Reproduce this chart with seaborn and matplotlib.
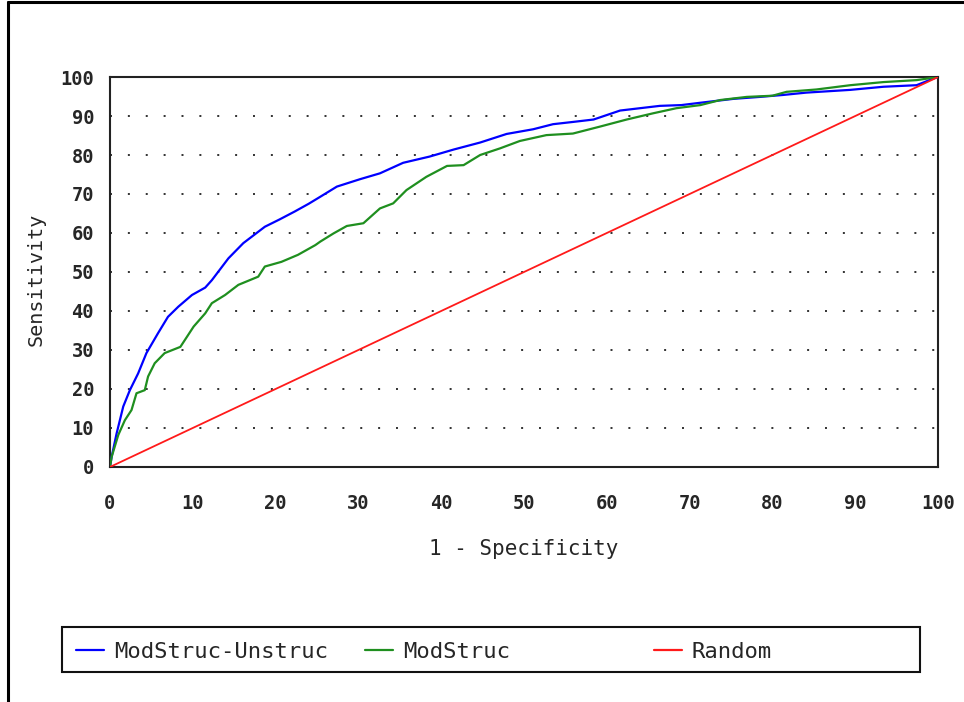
import numpy as np
import pandas as pd
import matplotlib
matplotlib.use("Agg")
import matplotlib.pyplot as plt
from matplotlib.lines import Line2D
from matplotlib.patches import Rectangle
import seaborn as sns

# ROC DATA (in percent)
series_names = ["ModStruc-Unstruc", "ModStruc", "Random"]
series_colors = ["#0000ff", "#1f8f1f", "#ff1a1a"]
series_widths = [1.6, 1.6, 1.3]

blue_fpr = [0, 0.2, 0.8, 1.6, 2.4, 3.4, 4.4, 5.8, 7.0, 8.25, 9.9, 11.5, 12.3,
            14.3, 16.1, 18.7, 20.5, 22.3, 24.0, 25.4, 27.4, 30.2, 32.6, 35.4,
            38.6, 41.5, 44.7, 47.9, 51.1, 53.5, 56.0, 58.4, 61.6, 64.0, 66.4,
            69.0, 71.3, 75.3, 78.5, 81.3, 84.1, 89.4, 93.4, 97.4, 99.8, 100]
blue_tpr = [0, 2.6, 8.6, 15.5, 19.7, 24.0, 29.2, 34.3, 38.5, 41.1, 44.1, 46.0, 47.9,
            53.5, 57.4, 61.6, 63.5, 65.5, 67.5, 69.3, 71.9, 73.8, 75.3, 78.0,
            79.6, 81.4, 83.2, 85.4, 86.6, 87.9, 88.5, 89.1, 91.4, 92.0, 92.6,
            92.8, 93.4, 94.4, 94.9, 95.4, 96.0, 96.7, 97.5, 97.9, 99.9, 100]

green_fpr = [0, 0.2, 1.0, 1.8, 2.6, 3.2, 4.2, 4.6, 5.4, 6.6, 8.5, 10.1, 11.5, 12.3,
             13.9, 15.5, 17.9, 18.7, 20.7, 22.7, 24.8, 25.4, 27.0, 28.6, 30.6,
             32.6, 34.2, 35.8, 38.2, 40.7, 42.7, 44.7, 47.1, 49.5, 52.7, 55.9,
             59.2, 62.4, 65.6, 68.4, 71.3, 73.7, 76.9, 80.0, 81.7, 85.3, 89.4,
             93.4, 97.4, 100]
green_tpr = [0, 2.6, 8.2, 12.0, 14.6, 18.9, 19.7, 23.2, 26.6, 29.2, 30.8, 36.0, 39.4, 42.0,
             44.1, 46.7, 48.8, 51.4, 52.6, 54.4, 56.9, 57.8, 59.9, 61.8, 62.5,
             66.3, 67.6, 71.0, 74.4, 77.2, 77.4, 80.0, 81.7, 83.6, 85.1, 85.5,
             87.3, 89.1, 90.7, 92.0, 92.8, 94.1, 94.9, 95.2, 96.2, 96.8, 97.9,
             98.7, 99.2, 100]

random_fpr = [0, 100]
random_tpr = [0, 100]

x_ticks = [0, 10, 20, 30, 40, 50, 60, 70, 80, 90, 100]
y_ticks = [0, 10, 20, 30, 40, 50, 60, 70, 80, 90, 100]

curves = {
    "ModStruc-Unstruc": (blue_fpr, blue_tpr),
    "ModStruc": (green_fpr, green_tpr),
    "Random": (random_fpr, random_tpr),
}

sns.set_style("white")
plt.rcParams["font.family"] = ["DejaVu Sans Mono", "DejaVu Sans"]

fig = plt.figure(figsize=(9.64, 7.02), dpi=100)
ax = fig.add_axes([0.1141, 0.3348, 0.859, 0.5555])

# PLOT CURVES
lines = []
for name, color, lw in zip(series_names, series_colors, series_widths):
    fpr, tpr = curves[name]
    df = pd.DataFrame({"fpr": fpr, "tpr": tpr})
    sns.lineplot(data=df, x="fpr", y="tpr", sort=False, color=color,
                 linewidth=lw, ax=ax, zorder=3)
    lines.append(ax.lines[-1])

ax.set_xlim(0, 100)
ax.set_ylim(0, 100)
ax.set_xticks(x_ticks)
ax.set_yticks(y_ticks)
ax.set_xticklabels([str(t) for t in x_ticks], fontweight="bold", fontsize=13.5)
ax.set_yticklabels([str(t) for t in y_ticks], fontweight="bold", fontsize=13.5)
ax.tick_params(axis="x", direction="out", length=8.6, width=1.5, pad=11, color="#222222")
ax.tick_params(axis="y", direction="out", length=6.5, width=1.5, pad=5, color="#222222")

for sp in ax.spines.values():
    sp.set_visible(True)
    sp.set_linewidth(1.5)
    sp.set_color("#222222")

# dotted horizontal grid
for yv in y_ticks[1:-1]:
    ax.axhline(yv, color="#222222", linewidth=1.3,
               linestyle=(0, (1.1, 8.8)), zorder=1)

ax.set_xlabel("1 - Specificity", fontsize=15)
ax.set_ylabel("Sensitivity", fontsize=14.5)
ax.xaxis.set_label_coords(0.5, -0.185)
ax.yaxis.set_label_coords(-0.078, 0.48)

# LEGEND
fig.add_artist(Rectangle((0.0643, 0.0427), 0.890, 0.0641, transform=fig.transFigure,
                         fill=False, edgecolor="#111111", linewidth=1.5))
leg_x = [0.0788, 0.3786, 0.6784]
for line, name, lx in zip(lines, series_names, leg_x):
    fig.legend(handles=[Line2D([0], [0], color=line.get_color(), linewidth=1.6)],
               labels=[name], loc="center left", bbox_to_anchor=(lx, 0.071),
               frameon=False, fontsize=16, handlelength=1.25, handletextpad=0.45,
               borderpad=0, borderaxespad=0)

# outer frame
fig.add_artist(Line2D([0.0088, 1.0], [0.9965, 0.9965], transform=fig.transFigure,
                      color="black", linewidth=2.2))
fig.add_artist(Line2D([0.0088, 0.0088], [0.0, 0.9965], transform=fig.transFigure,
                      color="black", linewidth=2.2))

plt.savefig("out.png", dpi=100)
